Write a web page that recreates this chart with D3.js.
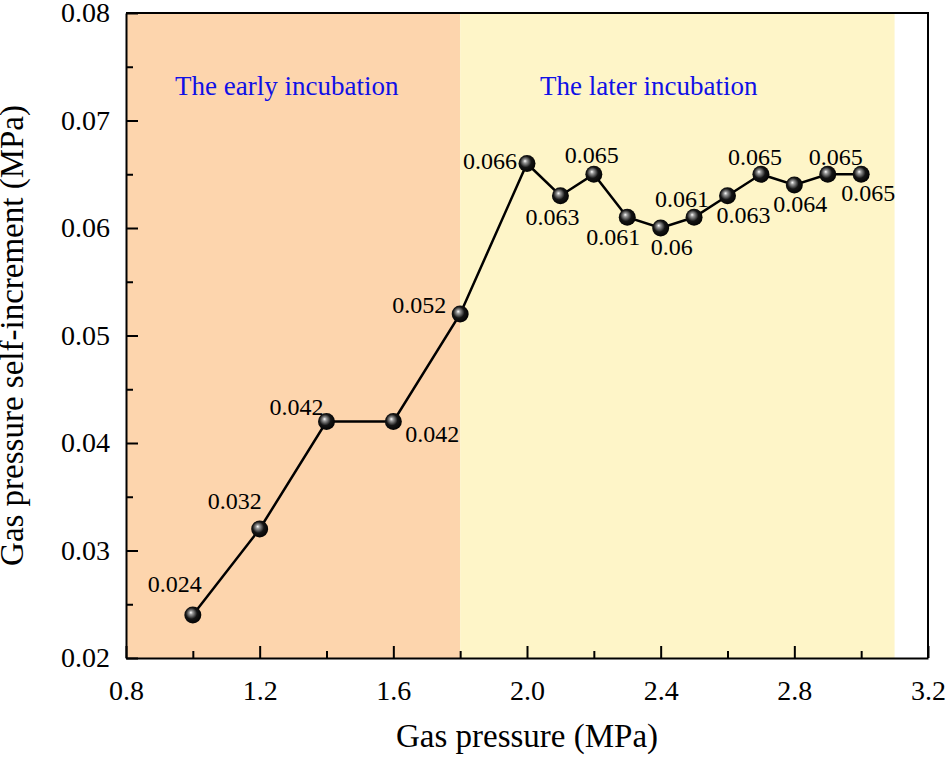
<!DOCTYPE html>
<html>
<head>
<meta charset="utf-8">
<script src="https://cdn.jsdelivr.net/npm/d3@7"></script>
<style>
  body { margin: 0; background: #fff; }
  svg { display: block; font-family: "Liberation Serif", "Times New Roman", serif; }
</style>
</head>
<body>
<div id="chart"></div>
<script>
// Data
const pressure = [1.0, 1.2, 1.4, 1.6, 1.8, 2.0, 2.1, 2.2, 2.3, 2.4, 2.5, 2.6, 2.7, 2.8, 2.9, 3.0];
const increment = [0.024, 0.032, 0.042, 0.042, 0.052, 0.066, 0.063, 0.065, 0.061, 0.060, 0.061, 0.063, 0.065, 0.064, 0.065, 0.065];
const valueLabels = ["0.024", "0.032", "0.042", "0.042", "0.052", "0.066", "0.063", "0.065", "0.061", "0.06", "0.061", "0.063", "0.065", "0.064", "0.065", "0.065"];
const stageNames = ["The early incubation", "The later incubation"];
const stageBounds = [0.8, 1.8, 3.1];
const xTicks = [0.8, 1.2, 1.6, 2.0, 2.4, 2.8, 3.2];
const yTicks = [0.02, 0.03, 0.04, 0.05, 0.06, 0.07, 0.08];

// label offsets from each point (px), layout only
const labelOffset = [
  [-18, -23], [-25, -20], [-30, -7], [39, 20], [-41, -1], [-37, 5], [-8, 29], [-2, -11],
  [-14, 28], [11, 27], [-12, -10], [16, 27], [-6, -9], [6, 27], [8, -9], [7, 27]
];
const stageColors = ["#fdd5ad", "#fef5c8"];

const W = 947, H = 759;
const margin = {top: 13, right: 19, bottom: 101, left: 126};

const svg = d3.select("#chart").append("svg")
  .attr("width", W)
  .attr("height", H);

const x = d3.scaleLinear().domain([0.8, 3.2]).range([margin.left, W - margin.right]);
const y = d3.scaleLinear().domain([0.02, 0.08]).range([H - margin.bottom, margin.top]);

// Stage backgrounds
svg.append("g").selectAll("rect")
  .data(stageNames)
  .join("rect")
  .attr("x", (d, i) => x(stageBounds[i]))
  .attr("width", (d, i) => x(stageBounds[i + 1]) - x(stageBounds[i]))
  .attr("y", y(0.08))
  .attr("height", y(0.02) - y(0.08))
  .attr("fill", (d, i) => stageColors[i]);

// Stage titles
svg.append("g").selectAll("text")
  .data(stageNames)
  .join("text")
  .attr("x", (d, i) => i === 0 ? 175 : 540)
  .attr("y", 95)
  .attr("font-size", "27px")
  .attr("fill", "#1010e6")
  .text(d => d);

// Axes (inward ticks)
const xMinor = d3.range(1.0, 3.2, 0.4);
const yMinor = d3.range(0.025, 0.08, 0.01);

const xAxis = svg.append("g").attr("transform", `translate(0,${y(0.02)})`);
xAxis.call(d3.axisBottom(x).tickValues(xTicks).tickFormat(d3.format(".1f"))
  .tickSizeInner(-12).tickSizeOuter(0).tickPadding(22));
xAxis.append("g").call(d3.axisBottom(x).tickValues(xMinor).tickFormat("").tickSizeInner(-7).tickSizeOuter(0))
  .select(".domain").remove();

const yAxis = svg.append("g").attr("transform", `translate(${x(0.8)},0)`);
yAxis.call(d3.axisLeft(y).tickValues(yTicks).tickFormat(d3.format(".2f"))
  .tickSizeInner(-12).tickSizeOuter(0).tickPadding(16));
yAxis.append("g").call(d3.axisLeft(y).tickValues(yMinor).tickFormat("").tickSizeInner(-7).tickSizeOuter(0))
  .select(".domain").remove();

svg.selectAll(".tick line").attr("stroke", "#000").attr("stroke-width", 2);
svg.selectAll(".domain").attr("stroke", "#000").attr("stroke-width", 2);
svg.selectAll(".tick text").attr("font-size", "28px").attr("fill", "#000")
  .attr("font-family", "'Liberation Serif', 'Times New Roman', serif");
xAxis.selectAll(".tick text").attr("dy", "0.71em");

// Top and right frame
svg.append("path")
  .attr("d", `M${x(0.8)},${y(0.08)}H${x(3.2)}V${y(0.02)}`)
  .attr("fill", "none")
  .attr("stroke", "#000")
  .attr("stroke-width", 2);

// Axis titles
svg.append("text")
  .attr("x", (x(0.8) + x(3.2)) / 2)
  .attr("y", 747)
  .attr("text-anchor", "middle")
  .attr("font-size", "33px")
  .text("Gas pressure (MPa)");

svg.append("text")
  .attr("transform", `translate(23,${(y(0.02) + y(0.08)) / 2}) rotate(-90)`)
  .attr("text-anchor", "middle")
  .attr("font-size", "33px")
  .text("Gas pressure self-increment (MPa)");

// Ball marker gradient
const grad = svg.append("defs").append("radialGradient")
  .attr("id", "ball")
  .attr("cx", "45%").attr("cy", "45%").attr("r", "60%")
  .attr("fx", "38%").attr("fy", "35%");
grad.append("stop").attr("offset", "0%").attr("stop-color", "#ffffff");
grad.append("stop").attr("offset", "18%").attr("stop-color", "#9a9a9a");
grad.append("stop").attr("offset", "55%").attr("stop-color", "#151515");
grad.append("stop").attr("offset", "100%").attr("stop-color", "#000");

const data = pressure.map((p, i) => ({p, v: increment[i], label: valueLabels[i], off: labelOffset[i]}));

const line = d3.line()
  .x(d => x(d.p))
  .y(d => y(d.v));

svg.append("path")
  .datum(data)
  .attr("fill", "none")
  .attr("stroke", "#000")
  .attr("stroke-width", 2.5)
  .attr("d", line);

svg.selectAll("circle.pt")
  .data(data)
  .join("circle")
  .attr("class", "pt")
  .attr("cx", d => x(d.p))
  .attr("cy", d => y(d.v))
  .attr("r", 8.5)
  .attr("fill", "url(#ball)");

svg.selectAll("text.val")
  .data(data)
  .join("text")
  .attr("class", "val")
  .attr("x", d => x(d.p) + d.off[0])
  .attr("y", d => y(d.v) + d.off[1])
  .attr("text-anchor", "middle")
  .attr("font-size", "24px")
  .attr("fill", "#000")
  .text(d => d.label);
</script>
</body>
</html>
